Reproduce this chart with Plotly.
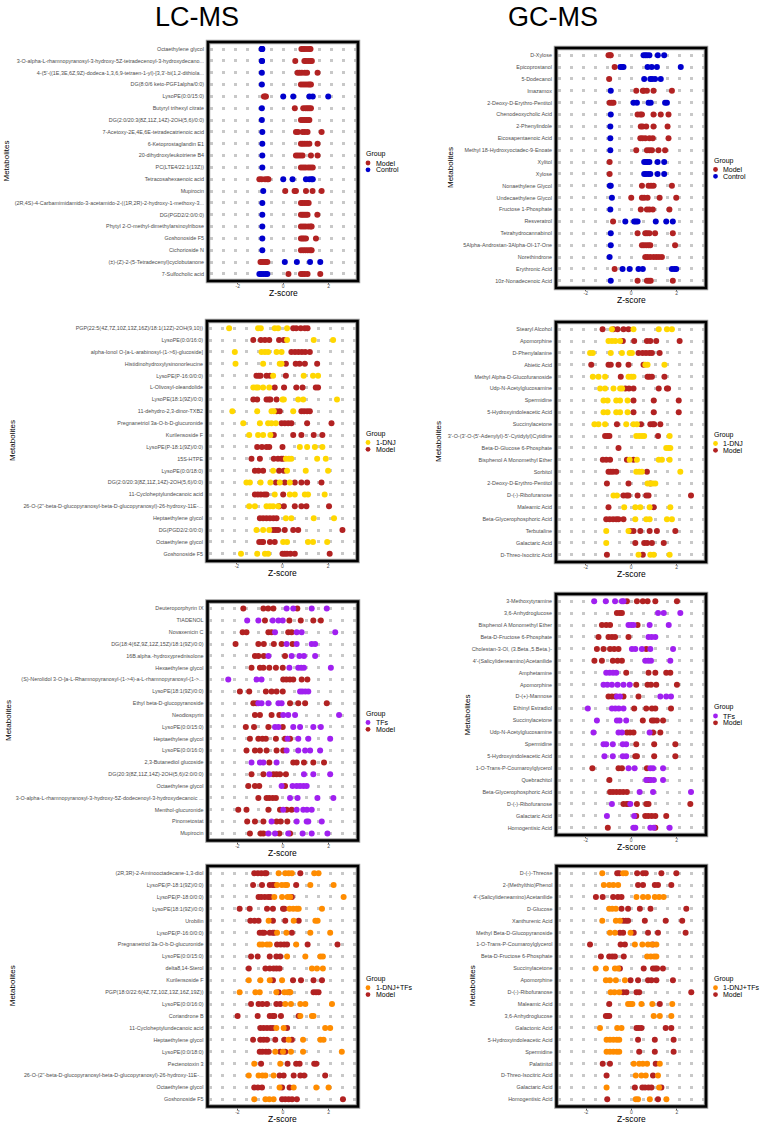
import plotly.graph_objects as go

W, H = 767, 1123
FONT = "Liberation Sans, Arial, sans-serif"

COLORS = {"Model": "#B22222", "Control": "#0000CD", "1-DNJ": "#FFD700",
          "TFs": "#A020F0", "1-DNJ+TFs": "#FF8C00"}

# ---------------- Panel 1: LC-MS, Model vs Control ----------------
P1_labels = ["Octaethylene glycol",
             "3-O-alpha-L-rhamnopyranosyl-3-hydroxy-5Z-tetradecenoyl-3-hydroxydecano...",
             "4-(5'-((1E,3E,6Z,9Z)-dodeca-1,3,6,9-tetraen-1-yl)-[3,3'-bi(1,2-dithiola...",
             "DG(8:0/6 keto-PGF1alpha/0:0)", "LysoPE(0:0/15:0)", "Butyryl trihexyl citrate",
             "DG(2:0/20:3(8Z,11Z,14Z)-2OH(5,6)/0:0)", "7-Acetoxy-2E,4E,6E-tetradecatrienoic acid",
             "6-Ketoprostaglandin E1", "20-dihydroxyleukotriene B4", "PC(LTE4/22:1(13Z))",
             "Tetracosahexaenoic acid", "Mupirocin",
             "(2R,4S)-4-Carbamimidamido-3-acetamido-2-((1R,2R)-2-hydroxy-1-methoxy-3...",
             "DG(PGD2/2:0/0:0)", "Phytyl 2-O-methyl-dimethylarsinoylribose", "Goshonoside F5",
             "Cichorioside N", "(±)-(Z)-2-(5-Tetradecenyl)cyclobutanone", "7-Sulfocholic acid"]
P1_model = [[0.8, 0.88, 0.95, 1.05, 1.15, 1.2], [0.53, 0.93, 1.0, 1.1, 1.2, 1.26],
            [0.63, 0.72, 0.82, 0.95, 1.05, 1.51], [0.78, 0.88, 0.98, 1.08, 1.16, 1.22],
            [-0.85, -0.8, -0.76], [0.51, 0.88, 0.98, 1.06, 1.14, 1.22],
            [0.78, 0.86, 0.94, 1.02, 1.1, 1.15], [0.56, 0.65, 0.85, 0.95, 1.07, 1.69],
            [0.78, 0.86, 0.95, 1.05, 1.15, 1.51], [0.56, 0.65, 0.75, 0.85, 1.22, 1.51],
            [0.78, 0.88, 0.98, 1.1, 1.2, 1.3], [-1.05, -0.95, -0.8, -0.7, -0.65],
            [0.09, 0.5, 0.56, 1.0, 1.29, 1.69], [0.78, 0.86, 0.95, 1.05, 1.12],
            [0.78, 0.85, 0.92, 1.0, 1.07, 1.5], [0.78, 0.88, 0.98, 1.1, 1.2, 1.25],
            [0.78, 0.85, 0.92, 1.0, 1.44], [0.78, 0.88, 0.98, 1.08, 1.18, 1.25],
            [-1.0, -0.93, -0.85, -0.77, -0.7], [0.23, 0.78, 0.86, 0.95, 1.07, 1.63]]
P1_control = [[-0.95, -0.93, -0.92], [-0.94, -0.93], [-0.94], [-0.94],
              [0.0, 0.44, 1.15, 1.3, 1.98], [-0.94], [-0.94], [-0.92], [-0.92], [-0.92],
              [-0.92], [0.0, 0.41, 1.0, 1.15, 1.25, 1.3], [-0.88], [-0.92], [-0.92],
              [-0.92], [-0.92], [-0.92], [0.07, 0.6, 1.18, 1.63],
              [-1.05, -0.97, -0.88, -0.78, -0.7]]

# ---------------- Panel 2: GC-MS, Model vs Control ----------------
P2_labels = ["D-Xylose", "Epicoprostanol", "5-Dodecanol", "Imazamox", "2-Deoxy-D-Erythro-Pentitol",
             "Chenodeoxycholic Acid", "2-Phenylindole", "Eicosapentaenoic Acid",
             "Methyl 18-Hydroxyoctadec-9-Enoate", "Xylitol", "Xylose", "Nonaethylene Glycol",
             "Undecaethylene Glycol", "Fructose 1-Phosphate", "Resveratrol", "Tetrahydrocannabinol",
             "5Alpha-Androstan-3Alpha-Ol-17-One", "Norethindrone", "Erythronic Acid",
             "10z-Nonadecenoic Acid"]
P2_model = [[-1.0, -0.93, -0.9], [-0.73], [-0.97], [0.22, 0.51, 0.55, 0.69, 0.98, 1.79],
            [-0.95, -0.86, -0.78], [0.28, 0.4, 0.47, 0.98, 1.3, 1.64], [0.42, 0.5, 0.66, 0.98, 1.6],
            [0.4, 0.5, 0.62, 0.8, 0.95, 1.64], [0.22, 0.69, 0.8, 0.91, 1.2, 1.49], [-0.95], [-0.95],
            [0.47, 0.76, 0.87, 0.98, 1.79], [0.0, 0.47, 0.57, 0.72, 1.25, 1.98],
            [0.42, 0.69, 0.8, 0.95, 1.68], [-0.8], [0.28, 0.62, 0.7, 0.8, 1.05, 1.83],
            [0.47, 0.56, 0.66, 0.76, 0.84, 1.93], [0.62, 0.72, 0.84, 0.98, 1.1, 1.22, 1.35],
            [-0.73], [0.28, 0.69, 0.78, 0.86, 1.83]]
P2_control = [[0.54, 0.62, 0.7, 0.8, 1.17, 1.45], [-0.48, -0.4, -0.34, 0.72, 0.9, 1.13, 2.18],
              [0.57, 0.84, 0.92, 1.05, 1.3], [-0.9], [0.1, 0.25, 0.76, 0.86, 1.49, 1.57], [-0.9],
              [-0.92], [-0.92], [-0.92], [0.57, 0.65, 0.72, 0.8, 1.16, 1.45],
              [0.57, 0.65, 0.75, 0.84, 1.16, 1.45], [-0.94, -0.9], [-0.85], [-0.92],
              [-0.26, 0.13, 0.2, 0.28, 1.08, 1.54, 1.83], [-0.9], [-0.9], [-0.95],
              [-0.38, -0.07, 0.32, 0.51, 1.79, 1.9, 1.98], [-0.9]]

# ---------------- Panel 3: LC-MS, 1-DNJ vs Model ----------------
P3_labels = ["PGP(22:5(4Z,7Z,10Z,13Z,16Z)/18:1(12Z)-2OH(9,10))", "LysoPE(0:0/16:0)",
             "alpha-Ionol O-[a-L-arabinosyl-(1->6)-glucoside]", "Histidinohydroxylysinonorleucine",
             "LysoPE(P-16:0/0:0)", "L-Olivosyl-oleandolide", "LysoPE(18:1(9Z)/0:0)",
             "11-dehydro-2,3-dinor-TXB2", "Pregnanetriol 3a-O-b-D-glucuronide", "Kurilensoside F",
             "LysoPE(P-18:1(9Z)/0:0)", "15S-HTPE", "LysoPE(0:0/18:0)",
             "DG(2:0/20:3(8Z,11Z,14Z)-2OH(5,6)/0:0)", "11-Cycloheptylundecanoic acid",
             "26-O-(2''-beta-D-glucopyranosyl-beta-D-glucopyranosyl)-26-hydroxy-11E-...",
             "Heptaethylene glycol", "DG(PGD2/2:0/0:0)", "Octaethylene glycol", "Goshonoside F5"]
P3_dnj = [[-2.34, -1.07, -0.95, -0.34, -0.19, 0.2], [0.2, 1.37, 2.22],
          [-2.09, -0.92, -0.77, -0.63, -0.26, -0.04], [-2.06, -0.85, -0.12, -0.04],
          [-0.41, 0.93, 1.34, 1.56], [-1.28, -1.15, -1.07, -0.85, -0.58], [0.0, 0.06, 0.69, 0.91, 2.39],
          [-2.2, -1.11, -0.48, -0.38, 0.47], [-1.72, -0.99, -0.63, -0.48, -0.29],
          [-1.46, -1.07, -0.85, -0.53], [0.76, 1.08, 1.42, 1.75], [0.15, 0.28, 0.39, 1.52, 1.9],
          [-0.41, 0.2, 1.02, 2.0], [-1.58, -1.43, -0.96, -0.53, -0.12, 0.32],
          [-0.34, 0.32, 0.54, 0.98, 1.12, 1.85], [-1.46, -1.21, -0.7, -0.55, -0.41, -0.19],
          [0.15, 0.39, 1.37, 2.26], [-1.14, -0.85, -0.58], [0.03, 0.2, 1.12, 1.34, 1.96],
          [-1.82, -1.11, -0.77, -0.63]]
P3_model = [[0.47, 0.6, 0.8, 0.98, 1.1], [-1.28, -0.95, -0.77, -0.58, -0.15, 0.06],
            [0.39, 0.55, 0.7, 0.85, 1.0, 1.2], [0.15, 0.58, 0.75, 0.98, 1.52],
            [-1.14, -1.04, -0.96, -0.7, -0.55, 0.15], [-0.34, 0.07, 0.61, 0.88, 1.46, 1.56],
            [-1.28, -1.11, -0.7, -0.6, -0.53, -0.26], [-0.26, -0.12, 0.83, 0.95, 1.08, 1.2],
            [-0.04, 0.1, 0.25, 0.39, 1.08, 2.15], [-0.38, 0.47, 0.83, 1.37, 1.75],
            [-1.11, -0.9, -0.7, -0.58, 0.0], [-1.36, -0.99, -0.38, -0.2, -0.05, 0.03],
            [-1.21, -1.05, -0.85, -0.15, 0.06], [-0.29, 0.1, 0.54, 0.83, 1.08, 1.71],
            [-1.21, -1.08, -0.95, -0.8, -0.7, 0.03], [-0.15, 0.06, 0.54, 0.83, 1.05, 2.04],
            [-0.99, -0.85, -0.7, -0.55, -0.4, -0.26], [-0.41, -0.3, -0.19, 0.1, 0.47, 0.69, 2.63],
            [-1.02, -0.9, -0.85, -0.55, -0.34], [0.0, 0.1, 0.2, 0.35, 0.54, 2.07]]

# ---------------- Panel 4: GC-MS, 1-DNJ vs Model ----------------
P4_labels = ["Stearyl Alcohol", "Apomorphine", "D-Phenylalanine", "Abietic Acid",
             "Methyl Alpha-D-Glucofuranoside", "Udp-N-Acetylglucosamine", "Spermidine",
             "5-Hydroxyindoleacetic Acid", "Succinylacetone",
             "3'-O-(3'-O-(5'-Adenylyl)-5'-Cytidylyl)Cytidine", "Beta-D-Glucose 6-Phosphate",
             "Bisphenol A Monomethyl Ether", "Sorbitol", "2-Deoxy-D-Erythro-Pentitol",
             "D-(-)-Ribofuranose", "Maleamic Acid", "Beta-Glycerophosphoric Acid", "Terbutaline",
             "Galactaric Acid", "D-Threo-Isocitric Acid"]
P4_dnj = [[-0.85, 0.1, 1.21, 1.57, 1.79], [-1.0, -0.85, -0.7, -0.49],
          [-1.81, -1.69, -0.9, -0.41, -0.07, 0.03], [0.62, 0.72, 1.46],
          [-1.69, -1.44, -1.15, -0.12, 0.0, 0.1], [-1.37, -1.15, -0.78, -0.49, -0.4],
          [-1.22, -1.04, -0.66, -0.49, -0.16], [-1.22, -1.04, -0.66, -0.49, -0.16],
          [-1.62, -1.44, -1.15, -0.22, 0.1, 0.25], [0.22, 0.35, 0.47, 0.57, 1.69], [1.54, 1.64, 1.72],
          [-0.07, 0.25, 1.21, 1.35, 1.69], [0.22, 0.35, 0.47, 2.16], [0.72, 0.85, 0.95, 1.06],
          [-0.78, -0.63], [-0.31, 0.18, 0.4, 0.81, 1.72], [0.18, 0.66, 0.81, 1.57, 1.79],
          [-1.1, -0.12], [-1.1], [0.32, 0.84, 0.99, 1.69]]
P4_model = [[-1.26, -0.78, -0.6, -0.34, -0.12], [-0.37, 0.13, 0.69, 0.84, 1.1, 2.13],
            [0.32, 0.5, 0.65, 0.8, 0.91, 1.25], [-1.76, -1.0, -0.9, -0.56, -0.12, 0.54],
            [-0.46, 0.72, 0.8, 0.91, 1.46], [-0.26, -0.1, 0.1, 1.21, 1.57, 1.62], [0.1, 0.99, 2.09],
            [0.1, 0.99, 2.09], [-0.63, 0.43, 0.84, 0.95, 1.01, 1.28], [-1.15, -1.05, -0.96, 1.18],
            [-0.56], [-1.25, -1.1, -0.93, -0.19, 0.1], [-1.0, -0.9, -0.8, -0.66, 0.69],
            [-1.07, -0.12, 0.84], [-0.34, -0.2, -0.12, 0.28, 0.66, 0.76, 2.63], [-1.0, 0.99],
            [-1.1, -0.95, -0.8, -0.66, -0.56, -0.34], [-0.04, 0.1, 0.4, 0.81, 1.13, 1.94],
            [0.18, 0.57, 0.7, 0.91, 1.43], [-1.07, 0.51]]

# ---------------- Panel 5: LC-MS, TFs vs Model ----------------
P5_labels = ["Deuteroporphyrin IX", "TIADENOL", "Novaxenicin C", "DG(18:4(6Z,9Z,12Z,15Z)/18:1(9Z)/0:0)",
             "16B.alpha.-hydroxyprednisolone", "Hexaethylene glycol",
             "(S)-Nerolidol 3-O-[a-L-Rhamnopyranosyl-(1->4)-a-L-rhamnopyranosyl-(1->...",
             "LysoPE(18:1(9Z)/0:0)", "Ethyl beta-D-glucopyranoside", "Neodiospyrin", "LysoPE(0:0/15:0)",
             "Heptaethylene glycol", "LysoPE(0:0/16:0)", "2,3-Butanediol glucoside",
             "DG(20:3(8Z,11Z,14Z)-2OH(5,6)/2:0/0:0)", "Octaethylene glycol",
             "3-O-alpha-L-rhamnopyranosyl-3-hydroxy-5Z-dodecenoyl-3-hydroxydecanoic ...",
             "Menthol-glucuronide", "Pinometostat", "Mupirocin"]
P5_tfs = [[0.16, 0.45, 1.26, 1.92], [-1.57, -1.08, -0.45, -0.2, -0.01], [-0.35, 0.6, 0.82, 2.29],
          [0.16, 0.6, 1.26, 1.41], [-0.64, 0.38, 0.72, 0.92, 1.41], [0.28, 0.67, 0.8, 0.92, 2.1],
          [-2.4, -1.16, -0.94], [0.75, 0.85, 0.98, 1.11], [-1.08, -0.94, -0.64, -0.2, -0.06],
          [0.01, 0.23, 0.53, 2.46], [-0.35, -0.2, 0.45, 0.75, 1.33, 1.66], [0.2, 0.67, 1.11, 2.07],
          [0.16, 0.67, 0.97, 1.19, 1.63], [-1.38, -1.01, -0.86, -0.28], [-0.6, 0.92, 1.33, 2.07],
          [-0.06, 0.42, 0.6, 0.75, 0.9, 1.04], [0.31, 0.64, 1.51, 2.21], [0.01, 0.6, 0.89, 1.05, 1.26],
          [-0.5, 0.6, 1.04, 1.11, 1.7], [-0.64, -0.35, 0.23, 0.86, 1.26, 1.95]]
P5_model = [[-1.74, -0.86, -0.65, -0.42, 0.63], [-0.79, 0.28, 0.78, 1.33, 1.66],
            [-1.77, -1.6, -0.64, -0.5, 0.23, 0.38], [-2.08, -1.08, -0.84, -0.4, -0.06, 0.42],
            [-1.23, -1.08, -0.84, 0.09], [-1.38, -1.01, -0.86, -0.6, -0.31, -0.01],
            [0.01, 0.15, 0.3, 0.45, 0.82, 1.07], [-1.89, -1.48, -0.75, -0.5, -0.28, -0.01],
            [-1.3, -1.16, 0.31, 0.67, 0.97, 1.92], [-1.23, -1.01, -0.5, -0.16],
            [-1.63, -1.27, -0.64, -0.01], [-1.45, -1.08, -0.9, -0.75, -0.31, 0.09, 0.31],
            [-1.6, -1.23, -1.01, -0.72, -0.28, 0.01], [-0.6, 0.45, 0.6, 0.92, 1.33, 1.8],
            [-1.38, -0.86, -0.42, -0.28, -0.13, 0.13], [-1.52, -1.23, -1.04, 0.09],
            [-1.08, -0.72, -0.6, -0.45, -0.31], [-1.96, -1.6, -0.64, -0.13, 0.16, 0.38],
            [-1.57, -1.23, -0.86, -0.28, -0.1, 0.19], [-1.45, -0.98, -0.86, -0.16, 0.31]]

# ---------------- Panel 6: GC-MS, TFs vs Model ----------------
P6_labels = ["3-Methoxytyramine", "3,6-Anhydroglucose", "Bisphenol A Monomethyl Ether",
             "Beta-D-Fructose 6-Phosphate", "Cholestan-3-Ol, (3.Beta.,5.Beta.)-",
             "4'-(Salicylideneamino)Acetanilide", "Amphetamine", "Apomorphine", "D-(+)-Mannose",
             "Ethinyl Estradiol", "Succinylacetone", "Udp-N-Acetylglucosamine", "Spermidine",
             "5-Hydroxyindoleacetic Acid", "1-O-Trans-P-Coumaroylglycerol", "Quebrachitol",
             "Beta-Glycerophosphoric Acid", "D-(-)-Ribofuranose", "Galactaric Acid",
             "Homogentisic Acid"]
P6_tfs = [[-1.63, -1.12, -0.71, -0.41, -0.34], [1.18, 1.43, 2.16], [-0.12, 0.0, 0.1, 0.81, 1.65],
          [0.76, 0.9, 1.06], [0.03, 0.18, 0.47, 0.84, 1.84], [0.62, 0.75, 0.87, 1.72],
          [-1.1, -0.95, -0.8, -0.66], [-1.22, -1.05, -0.85, -0.6, -0.34, -0.07],
          [-0.63, -0.49, 1.28, 1.54, 1.75], [-1.91, -0.85, -0.7, -0.55, -0.34],
          [-1.51, -0.63, -0.51, -0.22], [-1.66, -0.56, -0.41, 0.81], [-1.22, -1.1, -0.81, -0.37, -0.22],
          [-1.18, -0.81, -0.37, -0.22], [-0.12, 0.15, 0.84, 0.96, 1.4], [0.66, 0.85, 0.99, 1.4],
          [0.37, 0.96, 2.63], [-0.85, -0.04], [-1.07, 0.13], [0.1, 0.18, 0.84, 0.99, 1.69]]
P6_model = [[-0.19, 0.25, 0.51, 0.72, 1.06, 2.01], [-0.63, -0.5, -0.41], [-1.29, -1.1, -0.93, 0.28],
            [-1.44, -1.0, -0.85, -0.71, -0.12], [-1.51, -1.22, -0.93, -0.75, -0.56, 0.66],
            [-1.62, -1.29, -0.81, -0.6, -0.41], [-0.22, 0.76, 1.06, 1.54, 1.72],
            [0.22, 0.72, 0.87, 1.1, 2.01], [-1.0, -0.85, -0.7, -0.34, 0.32],
            [0.13, 0.66, 0.91, 1.06, 1.75], [0.51, 0.91, 1.0, 1.13, 1.4], [-0.19, -0.05, 0.1, 0.96, 1.28],
            [0.22, 1.01, 1.94], [0.18, 0.25, 1.01, 1.94], [-1.71, -0.56, -0.41, 0.69], [-0.96, 0.69, 0.81],
            [-0.93, -0.8, -0.65, -0.5, -0.35, -0.19], [-0.34, -0.2, -0.12, 0.25, 0.66, 0.76, 2.6],
            [0.22, 0.62, 0.75, 0.9, 1.06, 1.54], [-1.03, 1.06]]

# ---------------- Panel 7: LC-MS, 1-DNJ+TFs vs Model ----------------
P7_labels = ["(2R,3R)-2-Aminooctadecane-1,3-diol", "LysoPE(P-18:1(9Z)/0:0)", "LysoPE(P-18:0/0:0)",
             "LysoPE(18:1(9Z)/0:0)", "Urobilin", "LysoPE(P-16:0/0:0)",
             "Pregnanetriol 3a-O-b-D-glucuronide", "LysoPE(0:0/15:0)", "delta8,14-Sterol",
             "Kurilensoside F", "PGP(18:0/22:6(4Z,7Z,10Z,13Z,16Z,19Z))", "LysoPE(0:0/16:0)",
             "Coriandrone B", "11-Cycloheptylundecanoic acid", "Heptaethylene glycol",
             "LysoPE(0:0/18:0)", "Pectenotoxin 3",
             "26-O-(2''-beta-D-glucopyranosyl-beta-D-glucopyranosyl)-26-hydroxy-11E-...",
             "Octaethylene glycol", "Goshonoside F5"]
P7_combo = [[-0.19, 0.1, 0.25, 0.39, 1.37, 1.56], [-0.26, -0.05, 0.1, 0.18, 1.2, 2.22],
            [-0.38, -0.04, 0.2, 0.32, 2.66], [0.29, 0.45, 0.6, 0.69, 1.71], [-0.63, 0.47, 1.42, 1.52],
            [-0.26, 0.15, 1.2, 2.07], [-1.02, -0.9, -0.7, -0.58, 0.58], [0.18, 0.98, 1.64, 1.75],
            [1.27, 1.49, 1.75], [-1.5, -0.99, -0.58, -0.04], [-1.9, -1.21, -1.02, -0.29, 0.06, 0.2, 0.32],
            [0.1, 0.35, 0.76, 0.98, 2.15], [0.76, 1.27, 1.34], [-0.29, 0.03, 1.85, 2.07],
            [0.25, 0.88, 1.64, 1.78], [-0.34, 0.0, 0.35, 0.88, 2.58], [-1.26, -0.12],
            [-1.5, -1.07, -0.9, -0.77, -0.41], [-0.15, 0.47, 1.46, 2.0], [-1.26, -0.77, -0.6, -0.41]]
P7_model = [[-1.26, -1.1, -0.95, -0.8, -0.73, 0.76], [-1.31, -0.92, -0.58, -0.45, -0.38, 0.58],
            [-1.07, -0.95, -0.8, -0.65, -0.55, 0.39], [-1.9, -1.46, -0.7, -0.44, 0.0, 0.06],
            [-1.43, -1.25, -1.07, -0.44, 0.1, 0.69], [-1.02, -0.9, -0.82, -0.58, -0.45, -0.38, 0.39],
            [-0.26, -0.1, 0.05, 0.18, 1.08, 2.39], [-1.4, -1.11, -0.58, -0.29, -0.12],
            [-1.5, -0.77, -0.58, -0.41, -0.28, -0.15], [-0.44, 0.44, 0.79, 1.34, 1.71],
            [-0.19, 0.29, 1.34, 1.45, 1.56], [-1.4, -1.07, -0.9, -0.7, -0.29, -0.12],
            [-1.99, -1.11, -0.58, -0.45, -0.38, -0.09, 0.69], [-0.99, -0.85, -0.7, -0.55, -0.44, 0.18],
            [-1.31, -0.99, -0.85, -0.7, -0.34, 0.06, 0.39], [-1.02, -0.9, -0.75, -0.63, -0.12, 0.1],
            [-0.96, 0.2, 0.58, 0.73, 1.37, 1.46], [-0.15, 0.03, 0.47, 0.76, 0.93, 1.85],
            [-1.26, -1.1, -0.92, -0.04, 0.29], [-0.04, 0.1, 0.25, 0.4, 0.61, 2.63]]

# ---------------- Panel 8: GC-MS, 1-DNJ+TFs vs Model ----------------
P8_labels = ["D-(-)-Threose", "2-(Methylthio)Phenol", "4'-(Salicylideneamino)Acetanilide", "D-Glucose",
             "Xanthurenic Acid", "Methyl Beta-D-Glucopyranoside", "1-O-Trans-P-Coumaroylglycerol",
             "Beta-D-Fructose 6-Phosphate", "Succinylacetone", "Apomorphine", "D-(-)-Ribofuranose",
             "Maleamic Acid", "3,6-Anhydroglucose", "Galactonic Acid", "5-Hydroxyindoleacetic Acid",
             "Spermidine", "Palatinitol", "D-Threo-Isocitric Acid", "Galactaric Acid",
             "Homogentisic Acid"]
P8_combo = [[-1.29, -0.37, -0.25], [-1.22, -0.98, -0.8, -0.59], [0.22, 0.51, 0.73, 1.03, 1.22, 1.42],
            [-0.98, -0.85, -0.69], [-1.29, -0.69, -0.51], [-0.95, -0.73, -0.04],
            [0.15, 0.48, 0.73, 0.9, 1.1], [0.69, 0.85, 1.0, 1.1], [-1.58, -1.13, -0.73, -0.59],
            [-1.13, -0.95, -0.69, -0.29], [-0.92, -0.75, -0.54], [-0.15, -0.05, 0.04, 0.44, 0.92, 1.8],
            [0.98, 1.25, 1.76], [-1.39, -0.63, -0.44], [-1.1, -0.95, -0.8, -0.65, -0.54],
            [-1.1, -0.95, -0.8, -0.65, -0.54], [0.1, 0.34, 0.5, 0.69, 1.25], [0.19, 0.44, 0.63, 1.17],
            [-1.1, 1.22], [0.19, 0.29, 0.81, 1.54]]
P8_model = [[-0.63, -0.54, 0.25, 0.51, 0.63, 1.32, 1.98], [0.29, 0.51, 1.03, 1.17, 1.76],
            [-1.57, -1.27, -0.81, -0.6, -0.44], [-0.44, -0.15, 0.37, 0.84, 2.42],
            [-0.37, -0.25, -0.15, 0.59, 1.51, 2.24], [-0.51, -0.37, 0.1, 0.73, 1.17, 2.39],
            [-1.83, -0.48, -0.29, 0.95], [-1.35, -0.98, -0.85, -0.73, -0.34],
            [-0.51, 0.54, 0.95, 1.05, 1.13, 1.39], [-0.04, 0.29, 0.73, 0.88, 1.1, 1.83],
            [-0.37, -0.22, 0.22, 0.34, 2.64], [-0.98, 1.25], [-1.13, -1.05, -0.98],
            [0.22, 0.32, 0.44, 1.51, 1.76], [0.29, 1.03, 1.86], [0.34, 1.03, 1.86], [-1.27, -0.95, 1.07],
            [-1.1, 0.95], [0.15, 0.48, 0.6, 0.75, 0.88, 1.32], [-1.07, 1.17]]

X_TICKS = [-2, 0, 2]
X_TICK_TEXT = ["-2", "0", "2"]

# panel layout: (labels, [(group, data) in legend order], box px (x0, y0, x1, y1), ytitle x, legend side)
panels = [
    (P1_labels, [("Model", P1_model), ("Control", P1_control)], (208, 42, 358, 281), 6, "L"),
    (P2_labels, [("Model", P2_model), ("Control", P2_control)], (556, 48, 706, 288), 450, "R"),
    (P3_labels, [("1-DNJ", P3_dnj), ("Model", P3_model)], (207, 321, 357.5, 561), 12, "L"),
    (P4_labels, [("1-DNJ", P4_dnj), ("Model", P4_model)], (556, 322, 706, 562), 439, "R"),
    (P5_labels, [("TFs", P5_tfs), ("Model", P5_model)], (207.5, 601.5, 358, 840.5), 8, "L"),
    (P6_labels, [("TFs", P6_tfs), ("Model", P6_model)], (556, 594, 706, 835), 467, "R"),
    (P7_labels, [("1-DNJ+TFs", P7_combo), ("Model", P7_model)], (207.5, 866, 358, 1106.5), 12, "L"),
    (P8_labels, [("1-DNJ+TFs", P8_combo), ("Model", P8_model)], (556.5, 866, 706, 1106.5), 472, "R"),
]

def px(x):
    return x / W

def py(y):
    return 1 - y / H

fig = go.Figure()
annotations = []
shapes = []
layout = {}

for i, (labels, groups, box, ytx, side) in enumerate(panels):
    n = i + 1
    x0, y0, x1, y1 = box
    xa = "x" if n == 1 else f"x{n}"
    ya = "y" if n == 1 else f"y{n}"
    for gname, data in reversed(groups):
        xs, ys = [], []
        for r, vals in enumerate(data):
            for v in vals:
                xs.append(v)
                ys.append(r + 1)
        fig.add_trace(go.Scatter(x=xs, y=ys, mode="markers", xaxis=xa, yaxis=ya,
                                 marker=dict(size=6, color=COLORS[gname], line=dict(width=0)),
                                 showlegend=False, name=gname))
    kx = "xaxis" if n == 1 else f"xaxis{n}"
    ky = "yaxis" if n == 1 else f"yaxis{n}"
    layout[kx] = dict(domain=[px(x0), px(x1)], range=[-3.31, 3.29], anchor=ya,
                      tickvals=X_TICKS, ticktext=X_TICK_TEXT, ticks="outside", ticklen=2,
                      tickwidth=0.6, tickcolor="#555555", ticklabelstandoff=-2,
                      tickfont=dict(size=5, color="#4D4D4D", family=FONT),
                      showgrid=False, zeroline=False, showline=False, fixedrange=True)
    layout[ky] = dict(domain=[py(y1), py(y0)], range=[20.6, 0.4], anchor=xa,
                      tickvals=list(range(1, len(labels) + 1)), ticktext=labels,
                      ticks="", ticklabelstandoff=3,
                      tickfont=dict(size=5.4, color="#4D4D4D", family=FONT),
                      showgrid=True, gridcolor="#C8C8C8", gridwidth=3,
                      griddash="0px,1.5px,3px,7.5px",
                      zeroline=False, showline=False, fixedrange=True)
    shapes.append(dict(type="rect", xref="paper", yref="paper", x0=px(x0), x1=px(x1),
                       y0=py(y1), y1=py(y0), line=dict(color="#9A9A9A", width=4.5), layer="above"))
    shapes.append(dict(type="rect", xref="paper", yref="paper", x0=px(x0), x1=px(x1),
                       y0=py(y1), y1=py(y0), line=dict(color="black", width=2.6), layer="above"))
    cx = (x0 + x1) / 2
    cy = (y0 + y1) / 2
    annotations.append(dict(text="Z-score", x=px(cx), y=py(y1 + 12), xref="paper", yref="paper",
                            showarrow=False, xanchor="center", yanchor="middle",
                            font=dict(size=8.5, color="black", family=FONT)))
    annotations.append(dict(text="Metabolites", x=px(ytx), y=py(cy), xref="paper", yref="paper",
                            showarrow=False, textangle=-90, xanchor="center", yanchor="middle",
                            font=dict(size=8, color="black", family=FONT)))
    if side == "L":
        gx, mx, tx = 364, 368, 374
    else:
        gx, mx, tx = 712, 715.5, 721
    annotations.append(dict(text="Group", x=px(gx), y=py(cy - 7.3), xref="paper", yref="paper",
                            showarrow=False, xanchor="left", yanchor="middle",
                            font=dict(size=7, color="black", family=FONT)))
    for k, (gname, _) in enumerate(groups):
        iy = cy + 1.5 + 6.8 * k
        r = 2.4
        shapes.append(dict(type="circle", xref="paper", yref="paper",
                           x0=px(mx - r), x1=px(mx + r), y0=py(iy + r), y1=py(iy - r),
                           fillcolor=COLORS[gname], line=dict(width=0), layer="above"))
        annotations.append(dict(text=gname, x=px(tx), y=py(iy), xref="paper", yref="paper",
                                showarrow=False, xanchor="left", yanchor="middle",
                                font=dict(size=7, color="black", family=FONT)))

annotations.append(dict(text="LC-MS", x=px(197), y=py(0), xref="paper", yref="paper",
                        showarrow=False, xanchor="center", yanchor="top",
                        font=dict(size=27, color="black", family=FONT)))
annotations.append(dict(text="GC-MS", x=px(553), y=py(0), xref="paper", yref="paper",
                        showarrow=False, xanchor="center", yanchor="top",
                        font=dict(size=27, color="black", family=FONT)))

fig.update_layout(width=W, height=H, autosize=False,
                  margin=dict(l=0, r=0, t=0, b=0, pad=0),
                  paper_bgcolor="white", plot_bgcolor="white",
                  showlegend=False, annotations=annotations, shapes=shapes,
                  font=dict(family=FONT), **layout)

fig.write_html("out.html")
